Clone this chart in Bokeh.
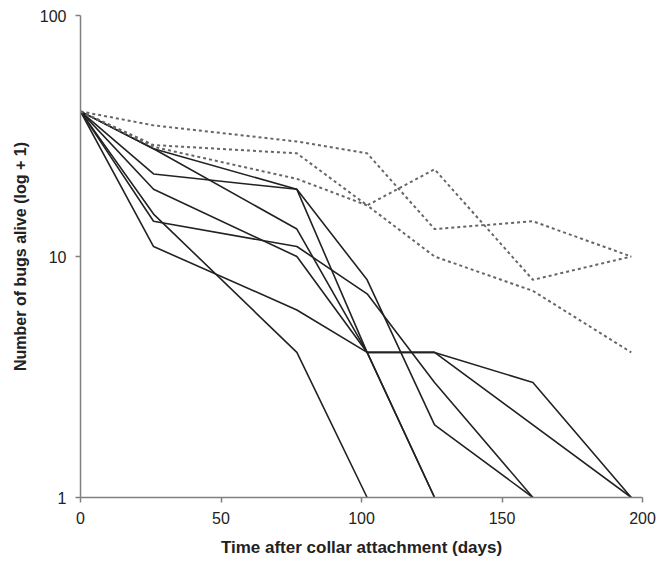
from bokeh.plotting import figure
from bokeh.models import FixedTicker, PrintfTickFormatter, Range1d
from bokeh.embed import file_html
from bokeh.resources import INLINE

# Days after collar attachment at which bugs were counted
days_full = [0, 26, 77, 102, 126, 161, 196]

# Treated groups (solid lines): number alive + 1
s1_days = [0, 26, 77, 102, 126, 161]
s1_vals = [40, 28, 19, 8, 2, 1]
s2_days = [0, 26, 77, 102, 126, 161, 196]
s2_vals = [40, 22, 19, 4, 4, 3, 1]
s3_days = [0, 26, 77, 102, 126, 196]
s3_vals = [40, 28, 13, 4, 4, 1]
s4_days = [0, 26, 77, 102, 126]
s4_vals = [40, 19, 10, 4, 1]
s5_days = [0, 26, 77, 102, 126, 161]
s5_vals = [40, 14, 11, 7, 3, 1]
s6_days = [0, 26, 77, 102]
s6_vals = [40, 15, 4, 1]
s7_days = [0, 26, 77, 102, 126]
s7_vals = [40, 11, 6, 4, 1]

# Control groups (dotted lines)
d1_vals = [40, 35, 30, 26.8, 13, 14, 10]
d2_vals = [40, 29, 26.8, 16.3, 23, 8, 10]
d3_vals = [40, 28.5, 21, 16.3, 10, 7.2, 4]

x_ticks = [0, 50, 100, 150, 200]
y_ticks = [1, 10, 100]

p = figure(width=660, height=561, x_range=Range1d(0, 200), y_range=Range1d(1, 100),
           y_axis_type="log", output_backend="svg", toolbar_location=None,
           min_border_left=80, min_border_right=18, min_border_top=15, min_border_bottom=64)

p.outline_line_color = None
p.xgrid.visible = False
p.ygrid.visible = False
p.background_fill_color = "white"

solid = [(s1_days, s1_vals), (s2_days, s2_vals), (s3_days, s3_vals), (s4_days, s4_vals),
         (s5_days, s5_vals), (s6_days, s6_vals), (s7_days, s7_vals)]
for xs, ys in solid:
    p.line(xs, ys, line_color="#222222", line_width=1.6)

for ys in (d1_vals, d2_vals, d3_vals):
    p.line(days_full, ys, line_color="#666666", line_width=2, line_dash="3 3")

font = "Liberation Sans"
for ax in (p.xaxis[0], p.yaxis[0]):
    ax.axis_line_color = "#808080"
    ax.axis_line_width = 1.5
    ax.major_tick_line_color = "#808080"
    ax.major_tick_line_width = 1.5
    ax.major_tick_in = 0
    ax.major_tick_out = 5
    ax.minor_tick_line_color = None
    ax.major_label_text_font = font
    ax.major_label_text_font_size = "16px"
    ax.major_label_text_color = "#222222"
    ax.axis_label_text_font = font
    ax.axis_label_text_font_style = "bold"
    ax.axis_label_text_color = "#222222"

p.xaxis.axis_label_text_font_size = "17px"
p.yaxis.axis_label_text_font_size = "16px"
p.xaxis.ticker = FixedTicker(ticks=x_ticks)
p.yaxis.ticker = FixedTicker(ticks=y_ticks)
p.yaxis.formatter = PrintfTickFormatter(format="%d")
p.xaxis.major_label_standoff = 9
p.yaxis.major_label_standoff = 9
p.xaxis.axis_label_standoff = 11
p.yaxis.axis_label_standoff = 8
p.xaxis.axis_label = "Time after collar attachment (days)"
p.yaxis.axis_label = "Number of bugs alive (log + 1)"

open("out.html", "w").write(file_html(p, INLINE))
